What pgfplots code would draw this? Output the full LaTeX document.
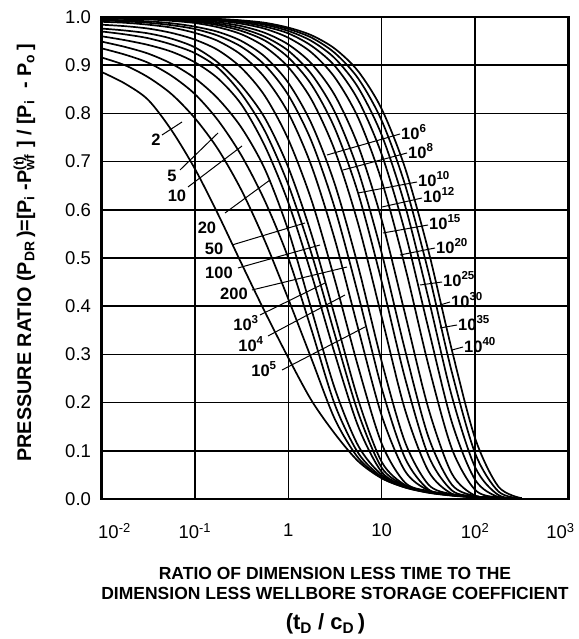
\documentclass[border=0pt]{standalone}
\usepackage{fontspec}
\setmainfont{Liberation Sans}
\usepackage{pgfplots}
\pgfplotsset{compat=1.18}
\usepackage{pgfplotstable}

\pgfplotstableread{
x c2 c5 c10 c20 c50 c100 c200 cA cB cC cD cE cF cG cH cI cJ cK cL cM
0.01   0.886 0.916 0.935 0.949 0.960 0.970 0.976 0.984 0.990 0.993 0.995 0.997 0.998 0.999 0.999 1.000 1.000 1.000 1.000 1.000
0.01778 0.862 0.900 0.922 0.938 0.952 0.964 0.972 0.981 0.988 0.991 0.993 0.996 0.997 0.998 0.999 0.999 0.9994 0.9995 0.9996 0.9997
0.03162 0.828 0.875 0.905 0.924 0.942 0.956 0.966 0.976 0.984 0.988 0.991 0.995 0.996 0.997 0.998 0.9985 0.9989 0.999 0.9992 0.9994
0.05623 0.765 0.840 0.878 0.903 0.928 0.943 0.955 0.967 0.978 0.983 0.987 0.992 0.994 0.995 0.996 0.997 0.998 0.998 0.9985 0.999
0.1    0.685 0.790 0.840 0.873 0.906 0.925 0.937 0.953 0.967 0.975 0.980 0.9875 0.990 0.992 0.994 0.995 0.996 0.997 0.9974 0.998
0.1778 0.590 0.725 0.785 0.830 0.872 0.894 0.905 0.931 0.950 0.961 0.969 0.9786 0.983 0.986 0.989 0.992 0.9936 0.9947 0.9955 0.996
0.3162 0.488 0.640 0.712 0.770 0.818 0.840 0.857 0.894 0.921 0.938 0.950 0.964 0.971 0.976 0.981 0.986 0.989 0.991 0.992 0.993
0.5623 0.388 0.535 0.618 0.684 0.732 0.763 0.790 0.836 0.874 0.900 0.9175 0.938 0.951 0.959 0.967 0.9755 0.980 0.9837 0.986 0.988
1      0.293 0.415 0.500 0.557 0.615 0.652 0.688 0.746 0.801 0.838 0.8635 0.896 0.916 0.930 0.943 0.957 0.966 0.971 0.975 0.978
1.778  0.204 0.290 0.350 0.392 0.465 0.508 0.548 0.619 0.690 0.7415 0.778 0.828 0.859 0.881 0.903 0.926 0.940 0.950 0.957 0.962
3.162  0.135 0.165 0.195 0.228 0.300 0.340 0.378 0.453 0.537 0.602 0.652 0.722 0.768 0.802 0.837 0.874 0.898 0.914 0.925 0.934
5.623  0.078 0.085 0.095 0.110 0.150 0.178 0.205 0.273 0.352 0.4226 0.481 0.5695 0.633 0.680 0.732 0.790 0.827 0.853 0.872 0.887
10     0.043 0.044 0.046 0.050 0.056 0.065 0.077 0.115 0.173 0.230 0.285 0.3775 0.451 0.510 0.579 0.660 0.715 0.755 0.785 0.809
17.78  0.024 0.024 0.025 0.026 0.027 0.028 0.029 0.034 0.058 0.085 0.118 0.185 0.2506 0.309 0.384 0.482 0.554 0.609 0.652 0.687
31.62  0.013 0.0135 0.014 0.0145 0.015 0.0155 0.016 0.0165 0.018 0.020 0.030 0.058 0.090 0.129 0.188 0.278 0.354 0.417 0.471 0.515
56.23  0.007 0.0075 0.0078 0.008 0.0082 0.0085 0.0088 0.009 0.0092 0.0095 0.010 0.011 0.018 0.030 0.053 0.105 0.160 0.214 0.264 0.310
100    0.003 0.0042 0.0043 0.0044 0.0045 0.0046 0.0047 0.0048 0.0049 0.005 0.005 0.005 0.0055 0.006 0.007 0.019 0.040 0.066 0.095 0.126
177.8  0.001 0.0024 0.0024 0.0025 0.0025 0.0026 0.0026 0.0027 0.0027 0.0027 0.0027 0.0027 0.0028 0.003 0.003 0.003 0.004 0.0082 0.0156 0.0256
316.2  0.000 0.001 0.001 0.001 0.001 0.001 0.001 0.001 0.001 0.001 0.001 0.001 0.001 0.001 0.001 0.001 0.001 0.001 0.001 0.0015
}\curves

\pgfplotsset{crv/.style={black, line width=1.7pt, smooth, tension=0.5, mark=none}}

\begin{document}
\begin{tikzpicture}[x=1pt,y=1pt]
% horizontal grid lines (drawn first, behind the axis)
\foreach \k in {1,...,9}{
  \draw[black, line width=1.6pt] (0,{48.2*\k}) -- (467,{48.2*\k});
}
\begin{axis}[
  at={(0,0)}, anchor=south west,
  scale only axis, width=467pt, height=482pt,
  xmode=log, xmin=0.01, xmax=1000, ymin=0, ymax=1,
  xtick={0.01,0.1,1,10,100,1000},
  xticklabels={\hspace*{26pt}10\textsuperscript{-2},10\textsuperscript{-1},1,10,10\textsuperscript{2},10\textsuperscript{3}\hspace*{16pt}},
  ytick={0,0.1,0.2,0.3,0.4,0.5,0.6,0.7,0.8,0.9,1},
  yticklabels={0.0,0.1,0.2,0.3,0.4,0.5,0.6,0.7,0.8,0.9,1.0},
  xmajorgrids=true, ymajorgrids=true,
  major grid style={black, line width=1.3pt},
  major tick length=0pt, minor tick length=0pt,
  axis line style={line width=2.4pt},
  tick label style={font=\fontsize{18.5}{20}\selectfont},
  xticklabel style={yshift=-21pt},
  yticklabel style={xshift=-7pt},
]
\addplot[crv] table[x=x,y=c2]{\curves};
\addplot[crv] table[x=x,y=c5]{\curves};
\addplot[crv] table[x=x,y=c10]{\curves};
\addplot[crv] table[x=x,y=c20]{\curves};
\addplot[crv] table[x=x,y=c50]{\curves};
\addplot[crv] table[x=x,y=c100]{\curves};
\addplot[crv] table[x=x,y=c200]{\curves};
\addplot[crv] table[x=x,y=cA]{\curves};
\addplot[crv] table[x=x,y=cB]{\curves};
\addplot[crv] table[x=x,y=cC]{\curves};
\addplot[crv] table[x=x,y=cD]{\curves};
\addplot[crv] table[x=x,y=cE]{\curves};
\addplot[crv] table[x=x,y=cF]{\curves};
\addplot[crv] table[x=x,y=cG]{\curves};
\addplot[crv] table[x=x,y=cH]{\curves};
\addplot[crv] table[x=x,y=cI]{\curves};
\addplot[crv] table[x=x,y=cJ]{\curves};
\addplot[crv] table[x=x,y=cK]{\curves};
\addplot[crv] table[x=x,y=cL]{\curves};
\addplot[crv] table[x=x,y=cM]{\curves};
\end{axis}
% leaders
\begin{scope}[line width=1pt]
\draw (60.5,364)--(80.5,377);
\draw (78.5,329)--(116.5,366);
\draw (86.5,312)--(140.5,353);
\draw (123.5,286)--(168.5,319);
\draw (130.5,254)--(203.5,276);
\draw (136.5,231)--(218.5,254);
\draw (150.5,209)--(245.5,232);
\draw (158.5,184)--(223.5,216);
\draw (166.5,163)--(243.5,204);
\draw (180.5,129)--(263.5,172);
\draw (298.5,365)--(225.5,344);
\draw (305.5,346)--(241.5,329);
\draw (315.5,317)--(256.5,306);
\draw (320.5,301)--(280.5,292);
\draw (326.5,274)--(281.5,266);
\draw (333.5,251)--(298.5,244);
\draw (340.5,217)--(318.5,214);
\draw (348.5,197)--(338.5,194);
\draw (355.5,174)--(338.5,171);
\draw (361.5,152)--(350.5,149);
\end{scope}
\begin{scope}[every node/.style={font=\bfseries\fontsize{16.5}{18}\selectfont, inner sep=1pt}]
\node at (54.5,359) {2};
\node at (70.5,323) {5};
\node at (75.5,303) {10};
\node at (105.5,271) {20};
\node at (112.5,250) {50};
\node at (117.5,226) {100};
\node at (132.5,205) {200};
\node at (144.5,176) {10\textsuperscript{3}};
\node at (149.5,155) {10\textsuperscript{4}};
\node at (162.5,130) {10\textsuperscript{5}};
\node[anchor=west] at (298.5,367) {10\textsuperscript{6}};
\node[anchor=west] at (305.5,348) {10\textsuperscript{8}};
\node[anchor=west] at (315.5,320) {10\textsuperscript{10}};
\node[anchor=west] at (320.5,304) {10\textsuperscript{12}};
\node[anchor=west] at (326.5,277) {10\textsuperscript{15}};
\node[anchor=west] at (333.5,253) {10\textsuperscript{20}};
\node[anchor=west] at (340.5,220) {10\textsuperscript{25}};
\node[anchor=west] at (348.5,199) {10\textsuperscript{30}};
\node[anchor=west] at (355.5,176) {10\textsuperscript{35}};
\node[anchor=west] at (361.5,154) {10\textsuperscript{40}};
\end{scope}
% titles
\node[rotate=90, font=\bfseries\fontsize{19.8}{21}\selectfont] at (-77,246)
 {PRESSURE RATIO (P\textsubscript{DR}\,)=[P\textsubscript{i} -P\rlap{\textsuperscript{(t)}}\textsubscript{wf}\,\,] / [P\textsubscript{i} \,\,- P\textsubscript{o}\,]};
\node[font=\bfseries\fontsize{17.5}{19}\selectfont] at (233.5,-74) {RATIO OF DIMENSION LESS TIME TO THE};
\node[font=\bfseries\fontsize{17.5}{19}\selectfont] at (233.5,-94) {DIMENSION LESS WELLBORE STORAGE COEFFICIENT};
\node[font=\bfseries\fontsize{22}{24}\selectfont] at (224,-125) {(t\textsubscript{D} / c\textsubscript{D}\,)};
\pgfresetboundingbox
\useasboundingbox (-101.5,-140) rectangle (476.5,499);
\end{tikzpicture}
\end{document}
